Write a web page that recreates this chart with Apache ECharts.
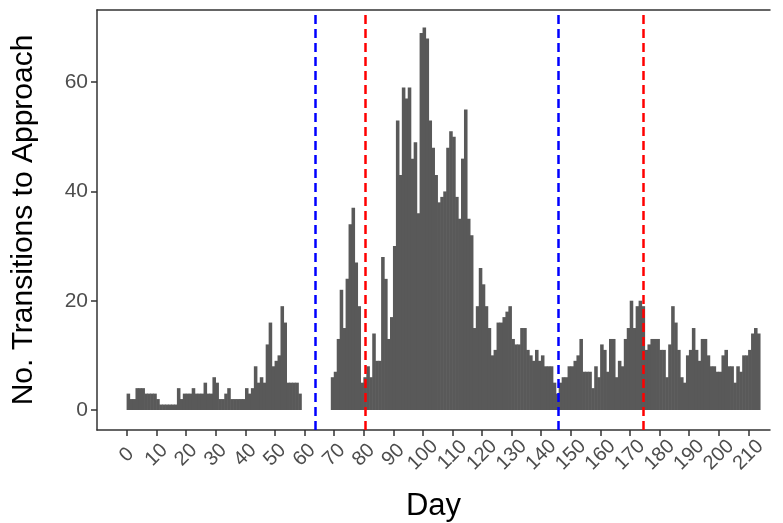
<!DOCTYPE html>
<html>
<head>
  <meta charset="UTF-8">
  <title>Transitions to Approach by Day</title>
  <script src="https://cdn.jsdelivr.net/npm/echarts@6/dist/echarts.min.js"></script>
  <style>
    body { margin: 0; padding: 0; background: #fff; }
    #chart { width: 783px; height: 523px; }
  </style>
</head>
<body>
  <div id="chart"></div>
  <script>
    // counts per day, day 0 .. 213
    var counts = [
      3, 2, 2, 4, 4, 4, 3, 3, 3, 3,
      2, 1, 1, 1, 1, 1, 1, 4, 2, 3,
      3, 3, 4, 3, 3, 3, 5, 3, 3, 6,
      5, 2, 2, 3, 4, 2, 2, 2, 2, 2,
      4, 3, 4, 8, 5, 6, 5, 12, 16, 8,
      9, 10, 19, 16, 5, 5, 5, 5, 3, 0,
      0, 0, 0, 0, 0, 0, 0, 0, 0, 6,
      7, 13, 22, 15, 24, 34, 37, 27, 19, 5,
      6, 8, 6, 14, 9, 9, 28, 24, 13, 17,
      30, 53, 43, 59, 57, 59, 46, 49, 36, 69,
      70, 68, 53, 48, 43, 38, 39, 40, 48, 51,
      50, 39, 35, 46, 55, 35, 32, 15, 19, 26,
      23, 19, 15, 10, 11, 16, 16, 17, 18, 19,
      13, 12, 12, 15, 15, 11, 10, 9, 11, 9,
      10, 8, 8, 8, 5, 3, 5, 6, 6, 8,
      8, 9, 10, 13, 7, 7, 7, 4, 8, 6,
      12, 11, 7, 13, 13, 6, 9, 8, 13, 15,
      20, 15, 19, 20, 19, 11, 12, 13, 13, 13,
      11, 11, 6, 12, 19, 16, 11, 6, 5, 10,
      11, 15, 11, 9, 13, 13, 10, 8, 8, 7,
      7, 10, 11, 8, 8, 5, 8, 7, 10, 10,
      11, 14, 15, 14
    ];
    var days = counts.map(function (c, i) { return i; });

    var xTicks = [0, 10, 20, 30, 40, 50, 60, 70, 80, 90, 100, 110, 120, 130, 140, 150, 160, 170, 180, 190, 200, 210];
    var yTicks = [0, 20, 40, 60];

    // vertical reference lines
    var blueLines = [63.7, 145.6];
    var redLines = [80.7, 174.6];

    var xMin = -10.1, xMax = 217.3;
    var yMin = -3.66, yMax = 73.2;

    var chart = echarts.init(document.getElementById('chart'));

    var marks = [];
    blueLines.forEach(function (v) {
      marks.push({ xAxis: v, lineStyle: { color: '#0000ff' } });
    });
    redLines.forEach(function (v) {
      marks.push({ xAxis: v, lineStyle: { color: '#ff0000' } });
    });

    var option = {
      animation: false,
      grid: { left: 97, right: 13, top: 10, bottom: 93, containLabel: false, outerBoundsMode: 'none' },
      xAxis: [{
        type: 'value',
        min: xMin,
        max: xMax,
        name: 'Day',
        nameLocation: 'middle',
        nameGap: 61,
        nameTextStyle: { fontFamily: 'Liberation Sans', fontSize: 31, color: '#000' },
        axisLine: { show: true, onZero: false, lineStyle: { color: '#333', width: 1.5 } },
        axisTick: { show: true, customValues: xTicks, length: 6, lineStyle: { color: '#333', width: 1.5 } },
        axisLabel: {
          customValues: xTicks,
          rotate: 45,
          align: 'center',
          verticalAlign: 'middle',
          margin: 25,
          fontFamily: 'Liberation Sans',
          fontSize: 20,
          color: '#4d4d4d'
        },
        splitLine: { show: false }
      }, {
        type: 'value',
        position: 'top',
        min: xMin,
        max: xMax,
        axisLine: { show: true, onZero: false, lineStyle: { color: '#333', width: 1.5 } },
        axisTick: { show: false },
        axisLabel: { show: false },
        splitLine: { show: false }
      }],
      yAxis: {
        type: 'value',
        min: yMin,
        max: yMax,
        name: 'No. Transitions to Approach',
        nameLocation: 'middle',
        nameGap: 58,
        nameRotate: 90,
        nameTextStyle: { fontFamily: 'Liberation Sans', fontSize: 30, color: '#000' },
        axisLine: { show: true, onZero: false, lineStyle: { color: '#333', width: 1.5 } },
        axisTick: { show: true, customValues: yTicks, length: 6, lineStyle: { color: '#333', width: 1.5 } },
        axisLabel: {
          customValues: yTicks,
          margin: 9,
          fontFamily: 'Liberation Sans',
          fontSize: 21,
          color: '#4d4d4d'
        },
        splitLine: { show: false }
      },
      series: [{
        type: 'custom',
        xAxisIndex: 0,
        data: days.map(function (d, i) { return [d, counts[i]]; }),
        renderItem: function (params, api) {
          var d = api.value(0);
          var v = api.value(1);
          if (!v) return null;
          var p0 = api.coord([d, v]);
          var p1 = api.coord([d + 1, 0]);
          // slight overlap so neighbouring bars merge without seams
          return {
            type: 'rect',
            shape: { x: p0[0] - 0.3, y: p0[1], width: p1[0] - p0[0] + 0.6, height: p1[1] - p0[1] },
            style: { fill: '#595959' }
          };
        },
        markLine: {
          silent: true,
          symbol: 'none',
          label: { show: false },
          lineStyle: { type: [9, 5], width: 2.5 },
          data: marks
        }
      }]
    };

    chart.setOption(option);
  </script>
</body>
</html>
